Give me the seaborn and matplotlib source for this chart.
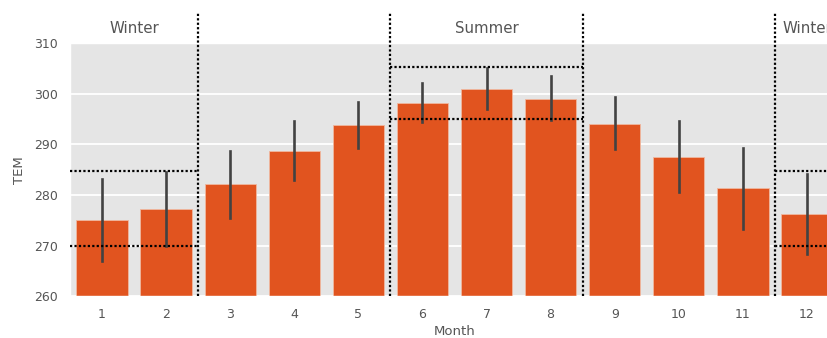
import matplotlib
matplotlib.use("Agg")
import matplotlib.pyplot as plt
import matplotlib.transforms as mtransforms
import numpy as np
import pandas as pd
import seaborn as sns

# Monthly mean temperature (K) with the lower / upper ends of its interval
months = [1, 2, 3, 4, 5, 6, 7, 8, 9, 10, 11, 12]
tem_mean = [275.0, 277.2, 282.1, 288.7, 293.8, 298.1, 301.0, 298.9, 294.1, 287.4, 281.3, 276.2]
tem_low = [267.0, 270.0, 275.4, 283.0, 289.2, 294.3, 297.0, 294.7, 289.0, 280.5, 273.3, 268.4]
tem_high = [283.2, 284.6, 288.7, 294.6, 298.4, 302.0, 305.0, 303.5, 299.4, 294.5, 289.3, 284.1]

# Season bands: label, first/last month index boundaries, lower/upper reference levels
season_names = ["Winter", "Summer", "Winter"]
season_start = [-0.5, 4.5, 10.5]
season_end = [1.5, 7.5, 11.5]
season_low = [270.0, 294.9, 270.0]
season_high = [284.7, 305.3, 284.7]
season_dividers = [1.5, 4.5, 7.5, 10.5]

plt.style.use("ggplot")
plt.rcParams["font.family"] = ["DejaVu Sans"]

# Long table: each month carries its low, mean and high; the median is the mean,
# and the min-max span gives the interval
df = pd.DataFrame({
    "Month": np.repeat(months, 3),
    "TEM": np.ravel(np.column_stack([tem_low, tem_mean, tem_high])),
})

fig = plt.figure(figsize=(8.28, 3.38), dpi=100)
ax = fig.add_axes([70 / 828, 41.6 / 338, 769 / 828, 253.5 / 338])

sns.barplot(
    data=df, x="Month", y="TEM", ax=ax,
    estimator="median",
    errorbar=lambda v: (v.min(), v.max()),
    color="#E1541F", saturation=1,
    err_kws={"color": ".26", "linewidth": 1.9},
    edgecolor="#F0B8A0", linewidth=0.6,
)

ax.set_ylim(260, 310)
ax.set_yticks([260, 270, 280, 290, 300, 310])
ax.set_xlim(-0.5, 11.5)
ax.grid(axis="y", color="white", linewidth=1.3)
ax.grid(axis="x", visible=False)
ax.tick_params(length=0, labelsize=9, colors="#555555", pad=8.5)
ax.set_xlabel("Month", fontsize=9.5, color="#555555", labelpad=3)
ax.set_ylabel("TEM", fontsize=9.5, color="#555555", labelpad=6)

dot = (0, (1, 1))
for xd in season_dividers:
    ax.axvline(xd, ymin=0, ymax=1.12, color="black", linestyle=dot,
               linewidth=1.6, clip_on=False, zorder=4)

trans = mtransforms.blended_transform_factory(ax.transData, ax.transAxes)
for name, x0, x1, lo, hi in zip(season_names, season_start, season_end, season_low, season_high):
    ax.hlines([lo, hi], x0, x1, colors="black", linestyles=[dot], linewidth=1.6,
              zorder=4, clip_on=False)
    ax.text((x0 + x1) / 2, 1.055, name, transform=trans, ha="center", va="center",
            fontsize=10.8, color="#555555")

fig.savefig("out.png", dpi=100)
